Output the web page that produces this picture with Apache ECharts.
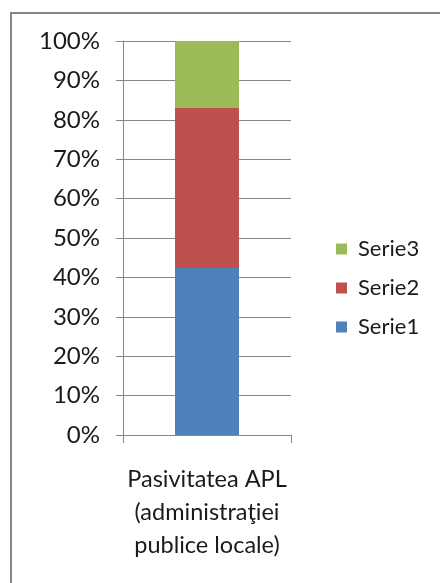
<!DOCTYPE html>
<html>
<head>
<meta charset="utf-8">
<script src="https://cdn.jsdelivr.net/npm/echarts@6/dist/echarts.min.js"></script>
<style>
  html, body { margin: 0; padding: 0; background: #fff; }
  #chart { width: 440px; height: 583px; }
</style>
</head>
<body>
<div id="chart"></div>
<script>
// date (procente din total)
var categories = ['Pasivitatea APL\n(administraţiei\npublice locale)'];
var serie1 = [42.4];
var serie2 = [40.6];
var serie3 = [17.0];
var yTicks = [0, 10, 20, 30, 40, 50, 60, 70, 80, 90, 100];

var chart = echarts.init(document.getElementById('chart'), null, { renderer: 'canvas' });
var font = 'Lato, "Open Sans", sans-serif';

var option = {
  animation: false,
  backgroundColor: '#fff',
  textStyle: { fontFamily: font },
  graphic: [{
    type: 'rect',
    shape: { x: 11, y: 13, width: 460, height: 620 },
    style: { fill: 'none', stroke: '#868686', lineWidth: 2 },
    silent: true
  }],
  grid: { left: 123, right: 149, top: 41, bottom: 148 },
  legend: {
    orient: 'vertical',
    left: 331,
    top: 233,
    itemWidth: 11,
    itemHeight: 11,
    itemGap: 17,
    icon: 'rect',
    data: ['Serie3', 'Serie2', 'Serie1'],
    textStyle: { fontFamily: font, fontSize: 22, lineHeight: 22, color: '#1a1a1a', padding: [0, 0, 0, 6] }
  },
  xAxis: {
    type: 'category',
    data: categories,
    axisLine: { lineStyle: { color: '#868686', width: 1 } },
    axisTick: { show: true, length: 8, lineStyle: { color: '#868686' } },
    axisLabel: { color: '#1a1a1a', fontSize: 23.5, lineHeight: 33, margin: 28, fontFamily: font }
  },
  yAxis: {
    type: 'value',
    min: yTicks[0],
    max: yTicks[yTicks.length - 1],
    interval: 10,
    axisLine: { show: true, lineStyle: { color: '#868686' } },
    axisTick: { show: true, length: 7, lineStyle: { color: '#868686' } },
    splitLine: { lineStyle: { color: '#868686', width: 1 } },
    axisLabel: {
      color: '#1a1a1a', fontSize: 24, margin: 23, fontFamily: font,
      formatter: function (v) { return v + '%'; }
    }
  },
  series: [
    { name: 'Serie1', type: 'bar', stack: 'tot', barWidth: 64, data: serie1, itemStyle: { color: '#4F81BD' } },
    { name: 'Serie2', type: 'bar', stack: 'tot', barWidth: 64, data: serie2, itemStyle: { color: '#C0504D' } },
    { name: 'Serie3', type: 'bar', stack: 'tot', barWidth: 64, data: serie3, itemStyle: { color: '#9BBB59' } }
  ]
};

chart.setOption(option);
</script>
</body>
</html>
